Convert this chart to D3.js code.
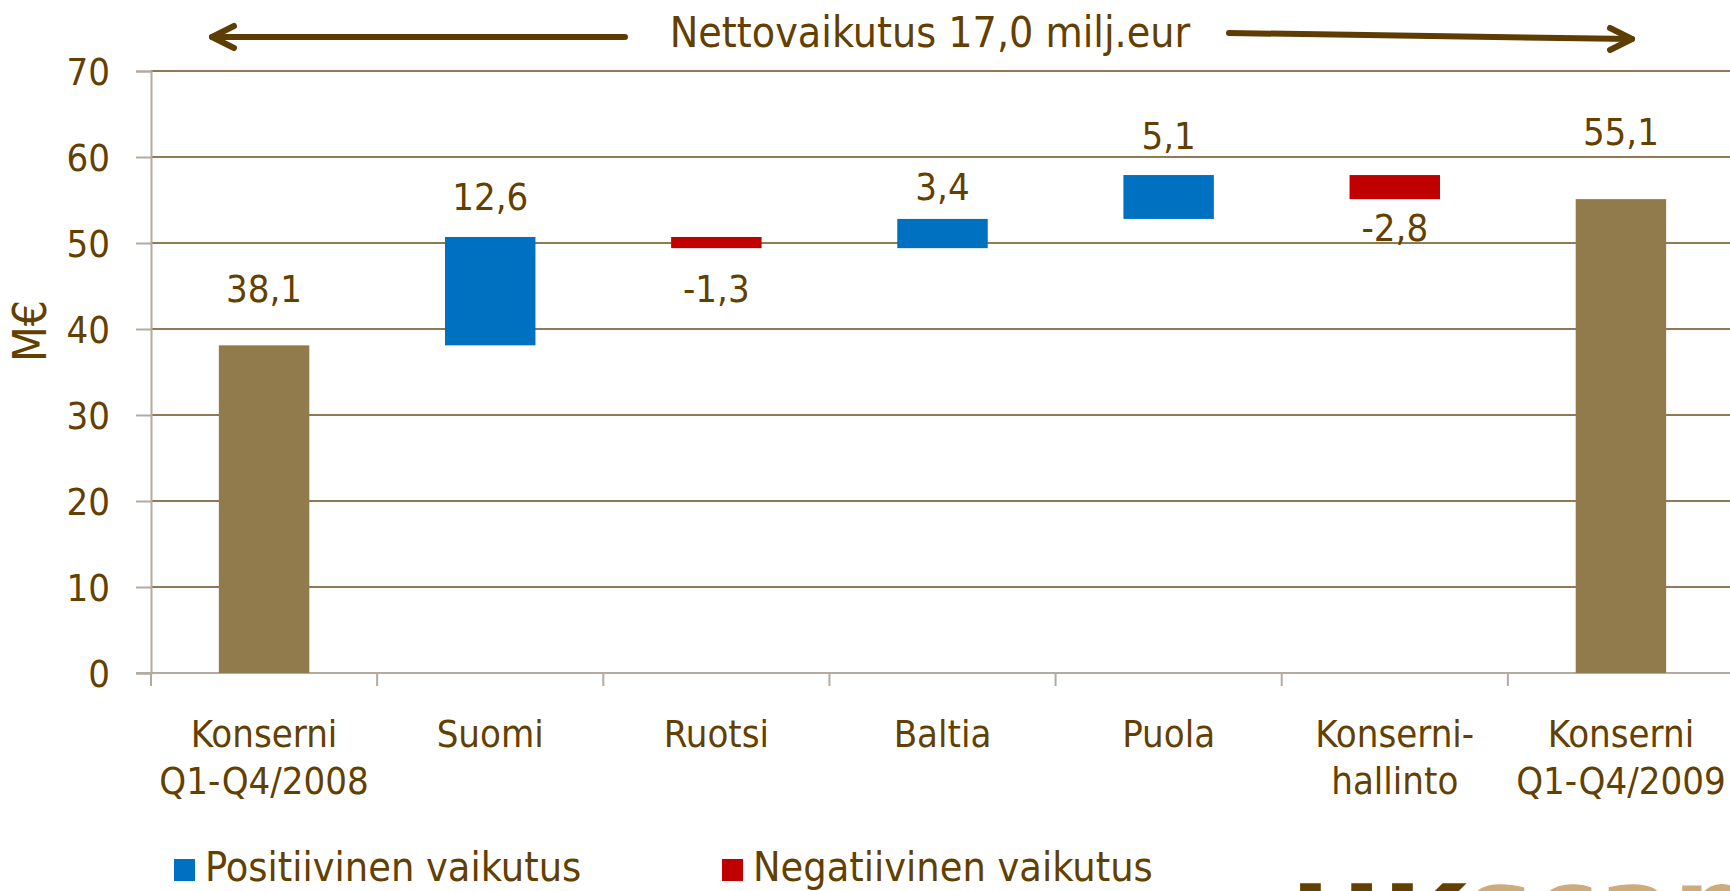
<!DOCTYPE html>
<html>
<head>
<meta charset="utf-8">
<script src="https://cdn.jsdelivr.net/npm/d3@7"></script>
<style>
  html, body { margin: 0; padding: 0; background: #fff; overflow: hidden; }
  svg text { font-family: "DejaVu Sans Condensed", "DejaVu Sans", sans-serif; font-stretch: condensed; fill: #633f00; }
</style>
</head>
<body>
<div id="chart"></div>
<script>
// Chart data.
var categories = ['Konserni\nQ1-Q4/2008', 'Suomi', 'Ruotsi', 'Baltia', 'Puola', 'Konserni-\nhallinto', 'Konserni\nQ1-Q4/2009'];
var values = [38.1, 12.6, -1.3, 3.4, 5.1, -2.8, 55.1];
var kinds = ['total', 'delta', 'delta', 'delta', 'delta', 'delta', 'total'];
var yTicks = [0, 10, 20, 30, 40, 50, 60, 70];
var legendItems = ['Positiivinen vaikutus', 'Negatiivinen vaikutus'];
var title = 'Nettovaikutus 17,0 milj.eur';

var width = 1730,
  height = 891;

var textColor = '#633f00';
var colors = { total: '#917a4c', pos: '#0070c0', neg: '#c00000' };

// Label nudges (px from the bar edge), in the order of the categories.
var labelGap = [43, 27, 54, 19, 26, 42, 54];

var svg = d3.select('#chart').append('svg')
  .attr('width', width)
  .attr('height', height);

var x = d3.scaleBand()
  .domain(categories)
  .range([151, 1734])
  .paddingInner(0.6)
  .paddingOuter(0.3);

var y = d3.scaleLinear()
  .domain([0, 70])
  .range([673, 71]);

// Waterfall steps.
var running = 0;
var steps = values.map(function (v, i) {
  var lo, hi;
  if (kinds[i] === 'total') {
    lo = 0; hi = v; running = v;
  } else {
    lo = Math.min(running, running + v);
    hi = Math.max(running, running + v);
    running += v;
  }
  return { cat: categories[i], value: v, kind: kinds[i], lo: lo, hi: hi, i: i };
});

// Gridlines.
svg.append('g')
  .selectAll('line')
  .data(yTicks.filter(function (d) { return d > 0; }))
  .enter().append('line')
  .attr('x1', 151)
  .attr('x2', width)
  .attr('y1', function (d) { return y(d); })
  .attr('y2', function (d) { return y(d); })
  .attr('stroke', '#8f7a55')
  .attr('stroke-width', 2);

// Y axis.
var yAxis = svg.append('g')
  .attr('transform', 'translate(151,0)')
  .call(d3.axisLeft(y).tickValues(yTicks).tickSize(15).tickPadding(26).tickFormat(d3.format('d')));
yAxis.select('.domain').attr('stroke', '#b3aaa2').attr('stroke-width', 2);
yAxis.selectAll('.tick line').attr('stroke', '#b3aaa2').attr('stroke-width', 2);
yAxis.selectAll('.tick text')
  .attr('font-size', 38)
  .attr('fill', textColor)
  .attr('dy', '0.36em');

// X axis line and category separators.
svg.append('line')
  .attr('x1', 136)
  .attr('x2', width)
  .attr('y1', y(0))
  .attr('y2', y(0))
  .attr('stroke', '#b3aaa2')
  .attr('stroke-width', 2);

var half = (x.step() - x.bandwidth()) / 2;
var bounds = categories.map(function (c) { return x(c) - half; });
bounds.push(x.range()[1]);
svg.append('g')
  .selectAll('line')
  .data(bounds)
  .enter().append('line')
  .attr('x1', function (d) { return d; })
  .attr('x2', function (d) { return d; })
  .attr('y1', y(0))
  .attr('y2', y(0) + 13)
  .attr('stroke', '#b3aaa2')
  .attr('stroke-width', 2);

// Category labels.
var catText = svg.append('g')
  .selectAll('text')
  .data(categories)
  .enter().append('text')
  .attr('text-anchor', 'middle')
  .attr('font-size', 38)
  .attr('y', 747);
catText.selectAll('tspan')
  .data(function (d) { return d.split('\n').map(function (t) { return { t: t, c: d }; }); })
  .enter().append('tspan')
  .attr('x', function (d) { return x(d.c) + x.bandwidth() / 2; })
  .attr('dy', function (d, i) { return i === 0 ? 0 : 47; })
  .text(function (d) { return d.t; });

// Bars.
svg.append('g')
  .selectAll('rect')
  .data(steps)
  .enter().append('rect')
  .attr('x', function (d) { return x(d.cat); })
  .attr('width', x.bandwidth())
  .attr('y', function (d) { return y(d.hi); })
  .attr('height', function (d) { return y(d.lo) - y(d.hi); })
  .attr('fill', function (d) {
    if (d.kind === 'total') return colors.total;
    return d.value >= 0 ? colors.pos : colors.neg;
  });

// Value labels, Finnish decimal comma and plain hyphen for minus.
var fi = d3.formatLocale({ decimal: ',', thousands: ' ', grouping: [3], currency: ['', ' €'], minus: '-' });
var fmt = fi.format('.1f');
svg.append('g')
  .selectAll('text')
  .data(steps)
  .enter().append('text')
  .attr('text-anchor', 'middle')
  .attr('font-size', 38)
  .attr('x', function (d) { return x(d.cat) + x.bandwidth() / 2; })
  .attr('y', function (d) {
    if (d.value < 0) return y(d.lo) + labelGap[d.i];
    return y(d.hi) - labelGap[d.i];
  })
  .text(function (d) { return fmt(d.value); });

// Y title.
svg.append('text')
  .attr('transform', 'translate(29,331) rotate(-90)')
  .attr('text-anchor', 'middle')
  .attr('dy', '0.36em')
  .attr('font-size', 46)
  .text('M€');

// Title with arrows.
svg.append('text')
  .attr('x', 930)
  .attr('y', 47)
  .attr('text-anchor', 'middle')
  .attr('font-size', 42.5)
  .text(title);

var arrowG = svg.append('g')
  .attr('fill', 'none')
  .attr('stroke', '#5e3d05')
  .attr('stroke-width', 6)
  .attr('stroke-linecap', 'round')
  .attr('stroke-linejoin', 'round');
arrowG.append('path').attr('d', 'M625,37 L212,37');
arrowG.append('path').attr('d', 'M234,26 L212,37 L234,48');
arrowG.append('path').attr('d', 'M1229,33 L1632,39');
arrowG.append('path').attr('d', 'M1610,28 L1632,39 L1610,50');

// Legend.
var legend = svg.append('g')
  .selectAll('g')
  .data(legendItems)
  .enter().append('g')
  .attr('transform', function (d, i) { return 'translate(' + (174 + i * 548) + ',0)'; });
legend.append('rect')
  .attr('x', 0)
  .attr('y', 859)
  .attr('width', 21)
  .attr('height', 22)
  .attr('fill', function (d, i) { return i === 0 ? colors.pos : colors.neg; });
legend.append('text')
  .attr('x', 31)
  .attr('y', 881)
  .attr('font-size', 41)
  .text(function (d) { return d; });

// Logo, only its top edge is in view.
svg.append('text')
  .attr('x', 1290)
  .attr('y', 884 + 0.729 * 110)
  .attr('font-size', 110)
  .attr('font-weight', 'bold')
  .style('font-family', 'DejaVu Sans')
  .style('font-stretch', 'normal')
  .style('fill', '#633f00')
  .text('HK');
svg.append('text')
  .attr('x', 1468)
  .attr('y', 884 + 0.56 * 110)
  .attr('font-size', 110)
  .attr('font-weight', 'bold')
  .style('font-family', 'DejaVu Sans')
  .style('font-stretch', 'normal')
  .style('fill', '#cfaa7a')
  .text('scan');
</script>
</body>
</html>
